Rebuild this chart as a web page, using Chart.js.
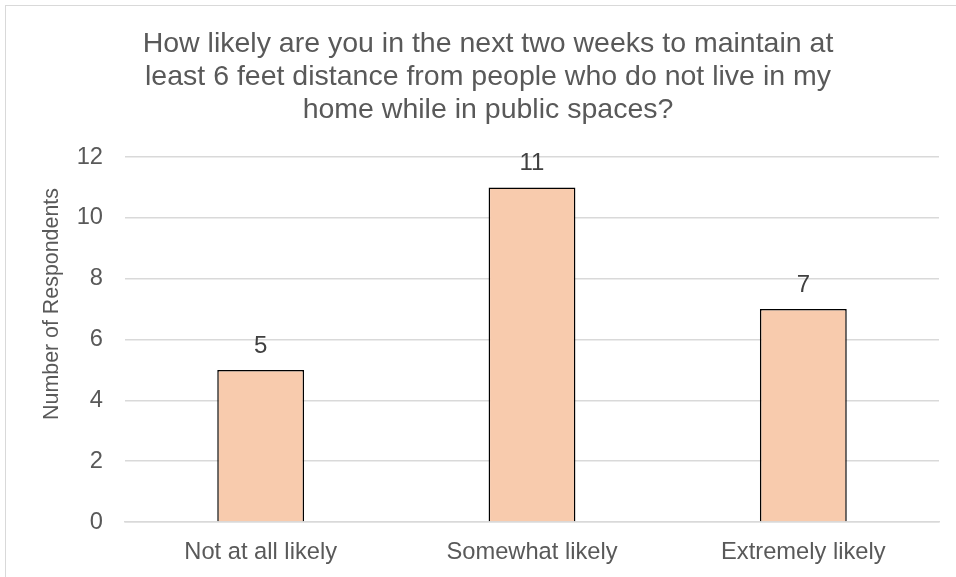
<!DOCTYPE html>
<html>
<head>
<meta charset="utf-8">
<script src="https://cdn.jsdelivr.net/npm/chart.js@4/dist/chart.umd.min.js"></script>
<style>
  html, body { margin: 0; padding: 0; background: #fff; }
  #wrap { width: 956px; height: 577px; position: relative; }
</style>
</head>
<body>
<div id="wrap"><canvas id="chart" width="956" height="577"></canvas></div>
<script>
// chart data
const categories = ["Not at all likely", "Somewhat likely", "Extremely likely"];
const respondents = [5, 11, 7];
const titleLines = [
  "How likely are you in the next two weeks to maintain at",
  "least 6 feet distance from people who do not live in my",
  "home while in public spaces?"
];
const yAxisTitle = "Number of Respondents";

const FONT = "'Liberation Sans', Arial, sans-serif";

// border, title and y axis title drawn like the spreadsheet chart
const framePlugin = {
  id: "frame",
  beforeDraw(chart) {
    const ctx = chart.ctx;
    ctx.save();
    ctx.fillStyle = "#fff";
    ctx.fillRect(0, 0, chart.width, chart.height);
    ctx.strokeStyle = "#d9d9d9";
    ctx.lineWidth = 1;
    ctx.strokeRect(5.5, 5.5, 1200, 1200);

    ctx.fillStyle = "#595959";
    ctx.textAlign = "center";
    ctx.textBaseline = "alphabetic";
    ctx.font = "28.5px " + FONT;
    titleLines.forEach((line, i) => {
      ctx.fillText(line, 488, 52 + i * 33);
    });

    ctx.translate(58, 304);
    ctx.rotate(-Math.PI / 2);
    ctx.font = "21.4px " + FONT;
    ctx.fillText(yAxisTitle, 0, 0);
    ctx.restore();
  }
};

// value labels above each bar
const valueLabels = {
  id: "valueLabels",
  afterDatasetsDraw(chart) {
    const ctx = chart.ctx;
    const meta = chart.getDatasetMeta(0);
    ctx.save();
    ctx.font = "24px " + FONT;
    ctx.fillStyle = "#404040";
    ctx.textAlign = "center";
    ctx.textBaseline = "alphabetic";
    meta.data.forEach((bar, i) => {
      ctx.fillText(respondents[i], bar.x, bar.y - 17);
    });
    ctx.restore();
  }
};

const config = {
  type: "bar",
  data: {
    labels: categories,
    datasets: [
      {
        data: respondents,
        backgroundColor: "#f8cbad",
        borderColor: "#000000",
        borderWidth: 1.5,
        borderSkipped: "bottom",
        barPercentage: 0.64,
        categoryPercentage: 0.5
      }
    ]
  },
  options: {
    responsive: false,
    animation: false,
    layout: { padding: { left: 20, right: 17, top: 157, bottom: 0 } },
    plugins: {
      legend: { display: false },
      tooltip: { enabled: false },
      title: { display: false }
    },
    scales: {
      x: {
        grid: { display: false, drawTicks: false },
        border: { display: true, color: "#d9d9d9", width: 1.5 },
        ticks: {
          color: "#595959",
          font: { family: FONT, size: 23.7 },
          padding: 16
        },
        afterFit(scale) { scale.height = 55; }
      },
      y: {
        min: 0,
        max: 12,
        ticks: {
          stepSize: 2,
          color: "#595959",
          font: { family: FONT, size: 23.7 },
          padding: 22
        },
        grid: { color: "#d9d9d9", lineWidth: 1.5, drawTicks: false },
        border: { display: false },
        afterFit(scale) { scale.width = 105; }
      }
    }
  },
  plugins: [framePlugin, valueLabels]
};

window.onload = function () {
  const ctx = document.getElementById("chart").getContext("2d");
  window.myBar = new Chart(ctx, config);
};
</script>
</body>
</html>
